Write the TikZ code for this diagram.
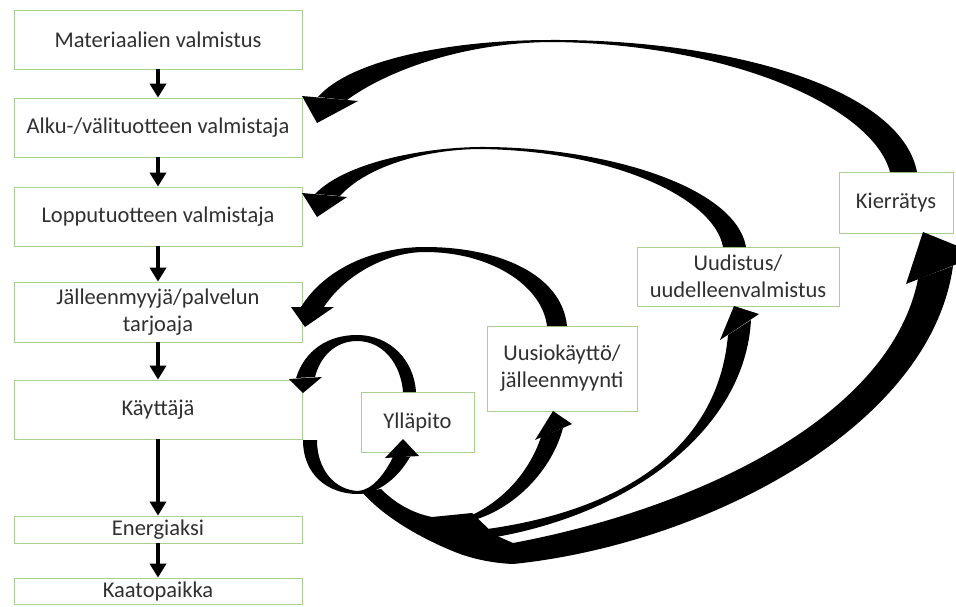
\documentclass[tikz,border=0pt]{standalone}
\usepackage{fontspec}
\setmainfont{Carlito}
\usepackage{xcolor}
\usepackage{tikz}
\usetikzlibrary{arrows.meta}
\definecolor{boxgreen}{HTML}{A9D18E}
\definecolor{textgray}{HTML}{303030}

\begin{document}
\begin{tikzpicture}[x=1pt,y=-1pt,
  stage/.style={draw=boxgreen,line width=0.8pt,fill=white,text=textgray,align=center,inner sep=0pt,font=\fontsize{22.5}{27}\selectfont},
  flow/.style={line width=3.5pt,-{Triangle[width=16pt,length=14pt]}}]
  \useasboundingbox (0,0) rectangle (956,606);
  \clip (0,0) rectangle (956,606);
  \node[stage,minimum width=288pt,minimum height=59pt] (mat) at (158,39.5) {Materiaalien valmistus};
  \node[stage,minimum width=288pt,minimum height=59pt] (alku) at (158,127.5) {Alku-/välituotteen valmistaja};
  \node[stage,minimum width=288pt,minimum height=59pt] (loppu) at (158,216.5) {Lopputuotteen valmistaja};
  \node[stage,minimum width=288pt,minimum height=60pt] (jalleen) at (158,312) {Jälleenmyyjä/palvelun\\tarjoaja};
  \node[stage,minimum width=288pt,minimum height=59pt] (kaytt) at (158,409.5) {Käyttäjä};
  \node[stage,minimum width=288pt,minimum height=27pt] (energ) at (158,529.5) {Energiaksi};
  \node[stage,minimum width=288pt,minimum height=26pt] (kaato) at (158,591) {Kaatopaikka};
  \node[stage,minimum width=113pt,minimum height=60pt] (yllap) at (417.5,422) {Ylläpito};
  \node[stage,minimum width=150pt,minimum height=85pt] (uusio) at (562,368.5) {Uusiokäyttö/\\jälleenmyynti};
  \node[stage,minimum width=202pt,minimum height=59pt] (uudis) at (738,276.5) {Uudistus/\\uudelleenvalmistus};
  \node[stage,minimum width=114pt,minimum height=61pt] (kierr) at (896,202.5) {Kierrätys};
  \draw[flow] (mat) -- (alku);
  \draw[flow] (alku) -- (loppu);
  \draw[flow] (loppu) -- (jalleen);
  \draw[flow] (jalleen) -- (kaytt);
  \draw[flow] (kaytt) -- (energ);
  \draw[flow] (energ) -- (kaato);
  \fill (318,97) .. controls (350,60) and (450,40) .. (550,40) .. controls (720,39) and (900,85) .. (917,172) -- (890,172) .. controls (872,105) and (725,43) .. (550,42) .. controls (460,43) and (385,72) .. (347,100) -- cycle;
  \fill (302,96) -- (358,101) -- (317,123) -- cycle;
  \fill (315,194) .. controls (345,163) and (420,148) .. (478,147) .. controls (600,146) and (735,185) .. (746,247) -- (723,247) .. controls (714,197) and (610,150) .. (478,149) .. controls (420,150) and (365,168) .. (340,196) -- cycle;
  \fill (302,193) -- (347,197) -- (317,217) -- cycle;
  \fill (301,307) .. controls (325,268) and (375,247) .. (425,247) .. controls (500,247) and (562,275) .. (567,326) -- (547,326) .. controls (542,285) and (490,252) .. (425,252) .. controls (385,252) and (343,277) .. (324,307) -- cycle;
  \fill (291,307) -- (334,307) -- (305,327) -- cycle;
  \fill (296,378) .. controls (305,350) and (328,335) .. (357,335) .. controls (390,335) and (414,360) .. (416,392) -- (403,392) .. controls (401,365) and (384,341) .. (357,341) .. controls (335,341) and (320,357) .. (315,377) -- cycle;
  \fill (289,379) -- (322,377) -- (303,393) -- cycle;
  \fill (303,440) .. controls (303,475) and (328,494) .. (358,494) .. controls (378,494) and (398,478) .. (410,457) -- (393,457) .. controls (384,475) and (372,490) .. (358,491) .. controls (335,490) and (317,470) .. (317,440) -- cycle;
  \fill (385,458) -- (419,456) -- (403,439) -- cycle;
  \fill (362,492) -- (381,489) .. controls (395,503) and (412,513) .. (432,517) -- (472,513) -- (495,535) -- (513,543) -- (513,564) .. controls (490,563) and (470,558) .. (455,552) .. controls (418,537) and (383,516) .. (362,492) -- cycle;
  \fill (470,516) .. controls (505,500) and (530,470) .. (541,437) -- (563,428) .. controls (552,470) and (515,508) .. (474,520) -- cycle;
  \fill (535,440) -- (572,424) -- (553,411) -- cycle;
  \fill (480,530) .. controls (620,512) and (718,450) .. (728,335) -- (751,320) .. controls (745,430) and (630,515) .. (490,538) -- cycle;
  \fill (720,340) -- (759,314) -- (734,306) -- cycle;
  \fill (513,543) .. controls (690,510) and (890,420) .. (918,279) -- (953,266) .. controls (930,430) and (700,545) .. (513,564) -- cycle;
  \fill (906,284) -- (980,255) -- (923,232) -- cycle;
\end{tikzpicture}
\end{document}
